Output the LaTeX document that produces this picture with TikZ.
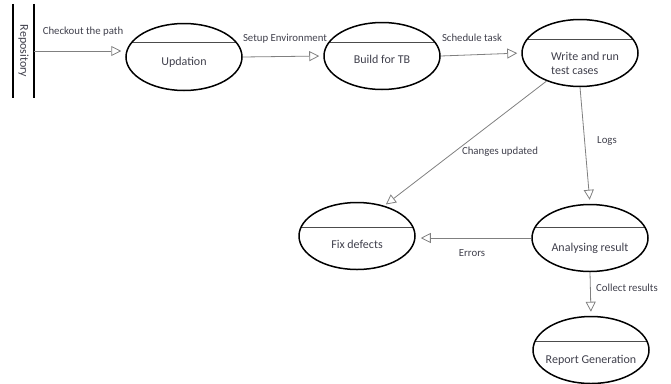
\documentclass[tikz,border=0pt]{standalone}
\usepackage{fontspec}
\setmainfont{Carlito}
\usetikzlibrary{shapes.geometric,arrows.meta}

\definecolor{inkgrey}{RGB}{64,64,76}
\definecolor{flowgrey}{RGB}{128,128,128}

\begin{document}
\begin{tikzpicture}[x=1pt, y=-1pt,
  stage/.style={ellipse, draw=black, line width=1.5pt, minimum width=116pt, minimum height=67pt, inner sep=0pt,
    path picture={\draw[line width=0.8pt, draw=black!70] ([yshift=#1]path picture bounding box.west) -- ([yshift=#1]path picture bounding box.east);}},
  stagetext/.style={text=inkgrey, font=\fontsize{12}{14.5}\selectfont},
  note/.style={text=inkgrey, font=\fontsize{10.8}{13}\selectfont, inner sep=0pt},
  flow/.style={draw=flowgrey, line width=0.8pt, -{Triangle[open, length=10pt, width=10pt]}, shorten >=4pt}]
\useasboundingbox (0,0) rectangle (671,383);

% repository bar
\node[rotate=-90, minimum width=94pt, minimum height=21pt, inner sep=0pt, stagetext] (repo) at (23.5,51) {Repository};
\draw[line width=1.6pt] (repo.north west) -- (repo.north east);
\draw[line width=1.6pt] (repo.south west) -- (repo.south east);

% stages
\node[stage=15pt, label={[stagetext, yshift=-5pt]center:Updation}] (upd) at (184,57) {};
\node[stage=14pt, label={[stagetext, yshift=-3pt]center:Build for TB}] (build) at (382,56) {};
\node[stage=14pt, label={[stagetext, align=left, xshift=5pt, yshift=-10.5pt]center:Write and run\\test cases}] (write) at (580,53) {};
\node[stage=9pt, label={[stagetext, yshift=-8pt]center:Fix defects}] (fix) at (357,236) {};
\node[stage=11pt, label={[stagetext, yshift=-10pt]center:Analysing result}] (ana) at (590,238) {};
\node[stage=9pt, label={[stagetext, yshift=-10pt]center:Report Generation}] (report) at (591,350) {};

% connectors
\draw[flow] (repo.north) -- (repo.north -| upd.west);
\draw[flow] (upd.east) -- (build.west);
\draw[flow] (build.east) -- (write.west);
\draw[flow, shorten >=2pt] (write.220) -- (fix.48);
\draw[flow] (write.south) -- (ana.north);
\draw[flow, shorten >=5pt] (ana.west) -- (ana.west -| fix.east);
\draw[flow] (ana.south) -- (report.north);

% labels
\node[note] (lcheck) at (83,32) {Checkout the path};
\node[note] (lsetup) at (285,39) {Setup Environment};
\node[note] (lsched) at (472,38) {Schedule task};
\node[note] (lchange) at (500,152) {Changes updated};
\node[note] (llogs) at (607,141) {Logs};
\node[note] (lerr) at (472,253) {Errors};
\node[note] (lcollect) at (627,288) {Collect results};

\end{tikzpicture}
\end{document}
